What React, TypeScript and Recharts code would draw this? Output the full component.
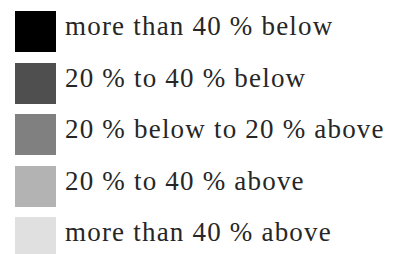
import React from "react";
import { BarChart, Bar, XAxis, YAxis, Legend } from "recharts";

const categories: string[] = [
  "more than 40 % below",
  "20 % to 40 % below",
  "20 % below to 20 % above",
  "20 % to 40 % above",
  "more than 40 % above",
];
const colors: string[] = ["#000000", "#4f4f4f", "#808080", "#b3b3b3", "#e0e0e0"];
const values: number[] = [0, 0, 0, 0, 0];

const data = [
  categories.reduce((acc: Record<string, number | string>, c, i) => {
    acc["k" + i] = values[i];
    return acc;
  }, { name: "" } as Record<string, number | string>),
];

const renderLegend = (props: any) => {
  const payload = [...(props.payload || [])].sort(
    (a: any, b: any) => categories.indexOf(a.value) - categories.indexOf(b.value)
  );
  return (
    <div style={{ margin: 0, padding: 0 }}>
      {payload.map((entry: any, i: number) => (
        <div
          key={i}
          style={{
            display: "flex",
            alignItems: "flex-start",
            height: 51.5,
          }}
        >
          <svg width={41} height={41} style={{ display: "block", flex: "none" }}>
            <rect x={0} y={0} width={41} height={41} fill={entry.color} />
          </svg>
          <span
            style={{
              marginLeft: 9,
              fontFamily: "'Liberation Serif', serif",
              fontSize: 27,
              letterSpacing: 1.2,
              color: "#262626",
              lineHeight: "41px",
              whiteSpace: "nowrap",
              position: "relative",
              top: -5,
            }}
          >
            {entry.value}
          </span>
        </div>
      ))}
    </div>
  );
};

export default function App() {
  return (
    <BarChart width={393} height={254} data={data} margin={{ top: 0, right: 0, bottom: 0, left: 0 }}>
      <XAxis dataKey="name" hide />
      <YAxis hide />
      {categories.map((c, i) => (
        <Bar key={c} dataKey={"k" + i} name={c} fill={colors[i]} isAnimationActive={false} />
      ))}
      <Legend
        layout="vertical"
        align="left"
        verticalAlign="top"
        content={renderLegend}
        wrapperStyle={{ top: 3, left: 7, width: 390 }}
      />
    </BarChart>
  );
}
